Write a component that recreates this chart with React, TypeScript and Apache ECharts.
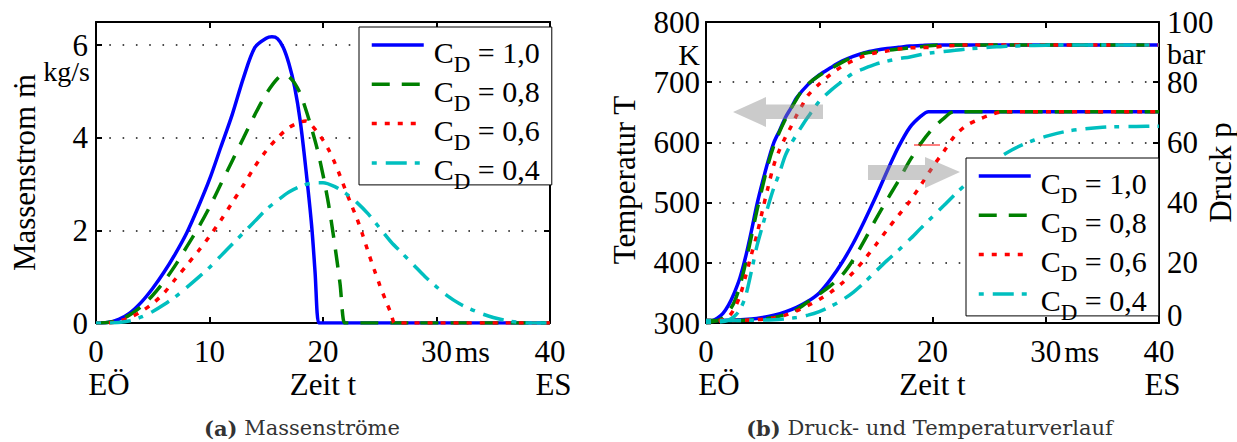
import { useEffect, useRef } from 'react';
import * as echarts from 'echarts';

const SERIF = '"Liberation Serif", "Times New Roman", Times, serif';
const CAPTION_FONT = '"DejaVu Serif", serif';

// Legend / series names and styles
const seriesNames = ['C_D = 1,0', 'C_D = 0,8', 'C_D = 0,6', 'C_D = 0,4'];
const seriesColors = ['#0000ff', '#008000', '#ff0000', '#00bfbf'];
const seriesDashes: any[] = ['solid', [18, 12], [5, 8], [5, 9, 21, 8]];

// (a) Mass flow rate [kg/s] over time [ms]
const massTimeBlue = [0, 1, 2, 3, 4, 5, 6, 7, 8, 9, 10, 11, 12, 13, 14, 15, 15.5, 16, 16.5, 17, 17.5, 18, 18.5, 19, 19.3, 19.62, 19.9, 40];
const massBlue = [0, 0.01, 0.08, 0.22, 0.45, 0.75, 1.1, 1.5, 1.95, 2.5, 3.1, 3.8, 4.5, 5.3, 5.95, 6.15, 6.18, 6.14, 5.95, 5.6, 5.1, 4.35, 3.3, 2.1, 1.1, 0, 0, 0];

const massTimeGreen = [0, 1, 2, 3, 4, 5, 6, 7, 8, 9, 10, 11, 12, 13, 14, 15, 16, 16.6, 17, 17.5, 18, 18.5, 19, 19.5, 20, 20.5, 21, 21.5, 21.9, 22.2, 40];
const massGreen = [0, 0.01, 0.06, 0.18, 0.36, 0.6, 0.9, 1.25, 1.65, 2.05, 2.5, 3.0, 3.5, 4.0, 4.5, 4.95, 5.28, 5.36, 5.32, 5.18, 4.95, 4.6, 4.2, 3.75, 3.2, 2.55, 1.75, 0.85, 0, 0, 0];

const massTimeRed = [0, 1, 2, 3, 4, 5, 6, 7, 8, 9, 10, 11, 12, 13, 14, 15, 16, 17, 18, 18.5, 19, 19.5, 20, 20.5, 21, 21.5, 22, 22.5, 23, 23.5, 24, 24.5, 25, 25.5, 26, 26.3, 26.6, 40];
const massRed = [0, 0, 0.04, 0.12, 0.25, 0.42, 0.65, 0.95, 1.25, 1.55, 1.87, 2.22, 2.6, 2.98, 3.38, 3.72, 4.0, 4.22, 4.34, 4.36, 4.27, 4.12, 3.95, 3.74, 3.48, 3.18, 2.86, 2.55, 2.25, 1.9, 1.52, 1.16, 0.82, 0.5, 0.2, 0, 0, 0];

const massTimeCyan = [0, 1, 2, 3, 4, 5, 6, 7, 8, 9, 10, 11, 12, 13, 14, 15, 16, 17, 18, 19, 20, 21, 22, 23, 24, 25, 26, 27, 28, 29, 30, 31, 32, 33, 34, 35, 36, 37, 38, 40];
const massCyan = [0, 0, 0.01, 0.05, 0.13, 0.25, 0.4, 0.57, 0.77, 0.98, 1.2, 1.45, 1.7, 1.95, 2.2, 2.45, 2.65, 2.83, 2.95, 3.02, 3.03, 2.95, 2.8, 2.6, 2.35, 2.05, 1.75, 1.5, 1.25, 1.0, 0.78, 0.58, 0.42, 0.3, 0.2, 0.12, 0.06, 0.02, 0, 0];

// (b) Temperature [K] over time [ms]
const tempTimeBlue = [0, 0.5, 1, 1.5, 2, 2.5, 3, 3.5, 4, 4.5, 5, 5.5, 6, 6.5, 7, 7.5, 8, 9, 10, 11, 12, 13, 14, 15, 16, 17, 18, 19, 20, 40];
const tempBlue = [301, 303, 308, 316, 330, 350, 375, 410, 452, 497, 535, 570, 600, 620, 641, 657, 674, 696, 712, 724, 735, 743, 749, 753, 756, 758, 760, 761, 762, 762];

const tempTimeGreen = [0, 1, 1.5, 2, 2.5, 3, 3.5, 4, 4.5, 5, 5.5, 6, 6.5, 7, 7.5, 8, 8.5, 9, 10, 11, 12, 13, 14, 15, 16, 17, 18, 19, 20, 21, 40];
const tempGreen = [301, 304, 309, 319, 335, 362, 400, 443, 487, 527, 565, 595, 618, 638, 656, 672, 687, 697, 711, 722, 733, 742, 748, 751, 753, 755, 757, 759, 761, 762, 762];

const tempTimeRed = [0, 1, 2, 2.5, 3, 3.5, 4, 4.5, 5, 5.5, 6, 6.5, 7, 7.5, 8, 8.5, 9, 10, 11, 12, 13, 14, 15, 16, 17, 18, 19, 20, 21, 22, 23, 40];
const tempRed = [300, 302, 311, 324, 345, 378, 413, 447, 488, 527, 563, 588, 608, 626, 645, 662, 678, 697, 713, 726, 736, 744, 749, 752, 755, 757, 757.5, 758, 760, 761, 762, 762];

const tempTimeCyan = [0, 1, 2, 2.5, 3, 3.5, 4, 4.5, 5, 5.5, 6, 6.5, 7, 7.5, 8, 8.5, 9, 10, 11, 12, 13, 14, 15, 16, 17, 18, 19, 20, 21, 22, 23, 24, 25, 26, 27, 28, 30, 32, 40];
const tempCyan = [300, 301, 305, 311, 322, 345, 385, 428, 462, 495, 525, 550, 578, 597, 613, 628, 642, 668, 686, 701, 715, 723, 730, 735, 739, 742, 746, 749, 751, 753, 755, 756.5, 758, 759, 760, 760.5, 761.5, 762, 762];

// (b) Pressure [bar] over time [ms]
const presTimeBlue = [0, 2, 4, 5, 6, 7, 8, 9, 10, 11, 12, 13, 14, 15, 16, 17, 18, 19, 19.65, 40];
const presBlue = [0.8, 0.9, 1.3, 1.8, 2.6, 3.7, 5.2, 7.2, 10, 14.5, 20, 26.5, 34, 42, 50.5, 58.5, 65, 68.8, 70.2, 70.2];

const presTimeGreen = [0, 4, 6, 7, 8, 9, 10, 11, 12, 13, 14, 15, 16, 17, 18, 19, 20, 21, 21.9, 40];
const presGreen = [0.8, 1.0, 1.8, 2.9, 4.5, 7.0, 9.6, 12.4, 15.8, 21, 27.5, 34.5, 41, 47.3, 54, 59.8, 64.5, 68, 70.2, 70.2];

const presTimeRed = [0, 4, 6, 7, 8, 9, 10, 11, 12, 13, 14, 15, 16, 17, 18, 19, 20, 21, 22, 23, 24, 25, 26.3, 40];
const presRed = [0.8, 1.0, 1.7, 2.6, 4.0, 5.8, 7.8, 10.2, 13.2, 16.8, 21.2, 26, 31, 35.8, 40.5, 46, 51.8, 57, 62.3, 65.6, 67.5, 69, 70.2, 70.2];

const presTimeCyan = [0, 4, 6, 8, 9, 10, 11, 12, 13, 14, 15, 16, 17, 18, 19, 20, 21, 22, 23, 24, 25, 26, 27, 28, 29, 30, 31, 32, 33, 34, 35, 36, 38, 40];
const presCyan = [0.8, 0.9, 1.1, 1.8, 2.6, 3.8, 5.5, 7.6, 10.2, 13.5, 17.2, 20.8, 24.2, 27.8, 31.6, 35.3, 39, 42.8, 46.3, 49.6, 52.5, 55.2, 57.5, 59.3, 60.8, 62, 63, 63.8, 64.3, 64.7, 65, 65.2, 65.3, 65.4];

const zip = (t: number[], v: number[]) => t.map((x, i) => [x, v[i]]);

const massData = [zip(massTimeBlue, massBlue), zip(massTimeGreen, massGreen), zip(massTimeRed, massRed), zip(massTimeCyan, massCyan)];
const tempData = [zip(tempTimeBlue, tempBlue), zip(tempTimeGreen, tempGreen), zip(tempTimeRed, tempRed), zip(tempTimeCyan, tempCyan)];
const presData = [zip(presTimeBlue, presBlue), zip(presTimeGreen, presGreen), zip(presTimeRed, presRed), zip(presTimeCyan, presCyan)];

const lineSeries = (idx: number, data: number[][], xAxisIndex: number, yAxisIndex: number) => ({
  type: 'line',
  name: seriesNames[idx],
  data,
  xAxisIndex,
  yAxisIndex,
  symbol: 'none',
  showSymbol: false,
  smooth: 0.3,
  lineStyle: { color: seriesColors[idx], width: 3.5, type: seriesDashes[idx], cap: 'butt' },
  itemStyle: { color: seriesColors[idx] },
  emphasis: { disabled: true },
  z: 3 + idx,
});

const axisLine = { show: true, onZero: false, lineStyle: { color: '#000', width: 2 } };
const axisTick = { show: true, inside: true, length: 6, lineStyle: { color: '#000', width: 2 } };
const dotted = { show: true, lineStyle: { color: '#111', width: 1.6, type: [1.6, 11.7] } };

const tickFont = { fontFamily: SERIF, fontSize: 31, color: '#000', lineHeight: 24 };

const timeLabel = (v: number) => {
  if (v === 0) return '0\n{pl| }EÖ';
  if (v === 20) return '20\nZeit t';
  if (v === 30) return '{pad| }30{u|ms}';
  if (v === 40) return '40\n{pe| }ES';
  return String(v);
};

const timeAxisBottom = (gridIndex: number) => ({
  type: 'value',
  gridIndex,
  position: 'bottom',
  min: 0,
  max: 40,
  interval: 10,
  axisLine,
  axisTick,
  splitLine: { show: false },
  axisLabel: {
    ...tickFont,
    margin: 12,
    lineHeight: 33,
    showMinLabel: true,
    showMaxLabel: true,
    formatter: timeLabel,
    rich: {
      pl: { width: 26, fontFamily: SERIF, fontSize: 31, lineHeight: 33 },
      pe: { width: 7, fontFamily: SERIF, fontSize: 31, lineHeight: 33 },
      pad: { width: 38, fontFamily: SERIF, fontSize: 31, lineHeight: 33 },
      u: { fontFamily: SERIF, fontSize: 30, lineHeight: 33, color: '#000', padding: [0, 0, 0, 3] },
    },
  },
});

const timeAxisTop = (gridIndex: number) => ({
  type: 'value',
  gridIndex,
  position: 'top',
  min: 0,
  max: 40,
  interval: 10,
  axisLine,
  axisTick,
  splitLine: { show: false },
  axisLabel: { show: false },
});

// Legend rows: 39.3 px pitch. Each label is a 14 px spacer line plus a 47 px text line
// (subscript bottom-aligned), centred on the sample line; the gap and the box padding are
// negative so the frame stays tight around the rows.
const legendFor = (left: number, top: number) => ({
  show: true,
  orient: 'vertical',
  left,
  top,
  data: seriesNames.map((name) => ({ name, itemStyle: { opacity: 0 } })),
  backgroundColor: '#fff',
  borderColor: '#000',
  borderWidth: 1,
  borderRadius: 0,
  padding: [-12.5, 12, -8.5, 11],
  itemGap: -21.7,
  itemWidth: 52,
  itemHeight: 14,
  selectedMode: false,
  itemStyle: { opacity: 0 },
  lineStyle: { width: 3.5 },
  formatter: (name: string) => '{gap| }\nC{sub|D}' + name.slice(3),
  textStyle: {
    fontFamily: SERIF,
    fontSize: 30,
    lineHeight: 47,
    color: '#000',
    padding: [0, 0, 0, 5],
    rich: {
      gap: { fontFamily: SERIF, fontSize: 14, lineHeight: 14 },
      sub: {
        fontFamily: SERIF,
        fontSize: 23,
        lineHeight: 47,
        verticalAlign: 'bottom',
        color: '#000',
      },
    },
  },
  z: 20,
});

const arrowFill = 'rgba(140,140,140,0.45)';

const unitText = (x: number, y: number, text: string, align: string, size: number) => ({
  type: 'text',
  x,
  y,
  z: 30,
  style: { text, fontFamily: SERIF, fontSize: size, lineHeight: 20, fill: '#000', align, verticalAlign: 'middle' },
});

const caption = (x: number, tag: string, text: string) => ({
  type: 'text',
  x,
  y: 428,
  z: 30,
  style: {
    text: `{b|${tag}} ${text}`,
    fontFamily: CAPTION_FONT,
    fontSize: 21,
    fill: '#333',
    align: 'center',
    verticalAlign: 'middle',
    rich: { b: { fontFamily: CAPTION_FONT, fontSize: 21, fontWeight: 'bold', fill: '#333' } },
  },
});

export default function App() {
  const ref = useRef<HTMLDivElement>(null);

  useEffect(() => {
    if (!ref.current) return;
    const chart = echarts.init(ref.current, null, { renderer: 'svg' });

    const option: any = {
      animation: false,
      backgroundColor: '#fff',
      textStyle: { fontFamily: SERIF },
      grid: [
        { left: 96, top: 22, width: 454, height: 301, outerBoundsMode: 'none', containLabel: false },
        { left: 706, top: 22, width: 453, height: 301, outerBoundsMode: 'none', containLabel: false },
      ],
      xAxis: [timeAxisBottom(0), timeAxisTop(0), timeAxisBottom(1), timeAxisTop(1)],
      yAxis: [
        {
          type: 'value',
          gridIndex: 0,
          position: 'left',
          min: 0,
          max: 6.5,
          interval: 2,
          axisLine,
          axisTick,
          splitLine: dotted,
          axisLabel: {
            ...tickFont,
            margin: 8,
            formatter: (v: number) => (v % 2 === 0 ? String(v) : ''),
          },
          name: 'Massenstrom ṁ',
          nameLocation: 'middle',
          nameRotate: 90,
          nameGap: 56,
          nameMoveOverlap: false,
          nameTextStyle: { fontFamily: SERIF, fontSize: 31, color: '#000' },
        },
        {
          type: 'value',
          gridIndex: 0,
          position: 'right',
          min: 0,
          max: 6.5,
          interval: 2,
          axisLine,
          axisTick,
          splitLine: { show: false },
          axisLabel: { show: false },
        },
        {
          type: 'value',
          gridIndex: 1,
          position: 'left',
          min: 300,
          max: 800,
          interval: 100,
          axisLine,
          axisTick,
          splitLine: dotted,
          axisLabel: { ...tickFont, margin: 6 },
          name: 'Temperatur T',
          nameLocation: 'middle',
          nameRotate: 90,
          nameGap: 66,
          nameMoveOverlap: false,
          nameTextStyle: { fontFamily: SERIF, fontSize: 31, color: '#000', padding: [0, 15, 0, 0] },
        },
        {
          type: 'value',
          gridIndex: 1,
          position: 'right',
          min: 0,
          max: 100,
          interval: 20,
          axisLine,
          axisTick,
          splitLine: { show: false },
          axisLabel: {
            ...tickFont,
            margin: 8,
            // the lowest pressure label sits a little above its tick
            formatter: (v: number) => (v === 0 ? '{lift|0}' : String(v)),
            rich: { lift: { fontFamily: SERIF, fontSize: 31, color: '#000', lineHeight: 24, padding: [0, 0, 16, 0] } },
          },
          name: 'Druck p',
          nameLocation: 'middle',
          nameRotate: 90,
          nameGap: 46,
          nameMoveOverlap: false,
          nameTextStyle: { fontFamily: SERIF, fontSize: 31, color: '#000' },
        },
      ],
      legend: [legendFor(359, 27), legendFor(966, 158)],
      series: [
        ...massData.map((d, i) => lineSeries(i, d, 0, 0)),
        ...tempData.map((d, i) => lineSeries(i, d, 2, 2)),
        ...presData.map((d, i) => lineSeries(i, d, 2, 3)),
      ],
      graphic: [
        unitText(90, 71, 'kg/s', 'right', 28),
        unitText(700, 54, 'K', 'right', 30),
        unitText(1167, 53, 'bar', 'left', 30),
        {
          type: 'polygon',
          z: 25,
          shape: { points: [[733, 112], [766, 97], [766, 104.5], [823, 104.5], [823, 119], [766, 119], [766, 127]] },
          style: { fill: arrowFill },
        },
        {
          type: 'polygon',
          z: 25,
          shape: { points: [[868, 165], [925, 165], [925, 157], [960, 172], [925, 188], [925, 180], [868, 180]] },
          style: { fill: arrowFill },
        },
        {
          type: 'line',
          z: 25,
          shape: { x1: 914, y1: 145, x2: 940, y2: 145 },
          style: { stroke: '#ff0000', lineWidth: 1 },
        },
        caption(302, '(a)', 'Massenströme'),
        caption(929.5, '(b)', 'Druck- und Temperaturverlauf'),
      ],
    };

    chart.setOption(option);
    return () => chart.dispose();
  }, []);

  return (
    <div
      ref={ref}
      style={{ position: 'absolute', left: 0, top: 0, width: 1237, height: 442, background: '#fff' }}
    />
  );
}
